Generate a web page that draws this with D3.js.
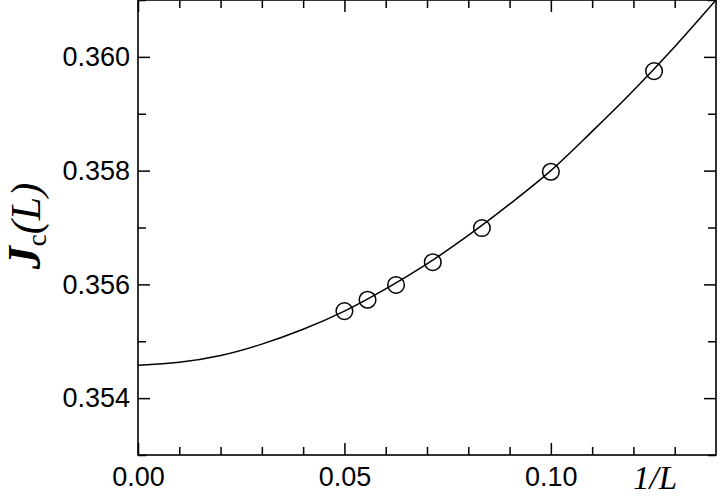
<!DOCTYPE html>
<html>
<head>
<meta charset="utf-8">
<script src="https://cdn.jsdelivr.net/npm/d3@7"></script>
<style>
  html, body { margin: 0; padding: 0; background: #fff; }
  svg { display: block; }
</style>
</head>
<body>
<svg id="chart" width="719" height="498"></svg>
<script>
// Data points: x = 1/L, y = Jc(L)
const invL = [0.05, 0.0556, 0.0625, 0.0714, 0.0833, 0.1, 0.125];
const Jc   = [0.35553, 0.35573, 0.35599, 0.35639, 0.35699, 0.35798, 0.35975];

// Fit curve
const fitX = [0.00, 0.01, 0.02, 0.03, 0.04, 0.05, 0.06, 0.07, 0.08, 0.09, 0.10, 0.11, 0.12, 0.13, 0.14];
const fitY = [0.35458, 0.35463, 0.35475, 0.35495, 0.35521, 0.35553, 0.35592, 0.35636, 0.35686, 0.35741, 0.35800, 0.35869, 0.35941, 0.36018, 0.36100];

// Ticks
const xMajor = [0.00, 0.05, 0.10];
const xMinor = [0.01, 0.02, 0.03, 0.04, 0.06, 0.07, 0.08, 0.09, 0.11, 0.12, 0.13];
const yMajor = [0.354, 0.356, 0.358, 0.360];
const yMinor = [0.353, 0.355, 0.357, 0.359, 0.361];

const L = 138, R = 716, T = 0, B = 455;
const x = d3.scaleLinear().domain([0, 0.14]).range([L, R]);
const y = d3.scaleLinear().domain([0.353, 0.361]).range([B, T]);

const svg = d3.select("#chart");
const font = "'Liberation Sans', Arial, sans-serif";
const serif = "'Liberation Serif', 'Times New Roman', serif";

// Fit line
const line = d3.line().x((d, i) => x(fitX[i])).y((d, i) => y(fitY[i])).curve(d3.curveCatmullRom.alpha(0.5));
svg.append("path")
  .attr("d", line(fitX))
  .attr("fill", "none").attr("stroke", "#000").attr("stroke-width", 1.5);

// Points
svg.append("g").selectAll("circle").data(invL).join("circle")
  .attr("cx", (d) => x(d))
  .attr("cy", (d, i) => y(Jc[i]))
  .attr("r", 8.3)
  .attr("fill", "none").attr("stroke", "#000").attr("stroke-width", 1.5);

// Axes with inward ticks on all four sides
const tickMaj = 12, tickMin = 8;
const axB = svg.append("g").attr("transform", `translate(0,${B})`);
axB.call(d3.axisBottom(x).tickValues(xMajor).tickSize(-tickMaj).tickPadding(12).tickFormat(d3.format(".2f")));
axB.append("g").call(d3.axisBottom(x).tickValues(xMinor).tickSize(-tickMin).tickFormat(""));
const axT = svg.append("g").attr("transform", `translate(0,${T})`);
axT.call(d3.axisTop(x).tickValues(xMajor).tickSize(-tickMaj).tickFormat(""));
axT.append("g").call(d3.axisTop(x).tickValues(xMinor).tickSize(-tickMin).tickFormat(""));
const axL = svg.append("g").attr("transform", `translate(${L},0)`);
axL.call(d3.axisLeft(y).tickValues(yMajor).tickSize(-tickMaj).tickPadding(8).tickFormat(d3.format(".3f")));
axL.append("g").call(d3.axisLeft(y).tickValues(yMinor).tickSize(-tickMin).tickFormat(""));
const axR = svg.append("g").attr("transform", `translate(${R},0)`);
axR.call(d3.axisRight(y).tickValues(yMajor).tickSize(-tickMaj).tickFormat(""));
axR.append("g").call(d3.axisRight(y).tickValues(yMinor).tickSize(-tickMin).tickFormat(""));

svg.selectAll(".domain").remove();
svg.selectAll(".tick line").attr("stroke", "#000").attr("stroke-width", 1.5);
svg.selectAll(".tick text").attr("fill", "#000").style("font-family", font).style("font-size", "27px");

// Frame
svg.append("rect").attr("x", L).attr("y", T).attr("width", R - L).attr("height", B - T)
  .attr("fill", "none").attr("stroke", "#000").attr("stroke-width", 1.6);

// X label
svg.append("text")
  .attr("x", 655).attr("y", 489)
  .attr("text-anchor", "middle")
  .style("font-family", serif).style("font-style", "italic").style("font-size", "33px")
  .text("1/L");

// Y label
const yl = svg.append("text")
  .attr("transform", "translate(40,226) rotate(-90)")
  .attr("text-anchor", "middle")
  .style("font-family", serif).style("font-size", "42px");
yl.append("tspan").style("font-style", "italic").style("font-weight", "bold").style("font-size", "46px").text("J");
yl.append("tspan").attr("dy", 6).style("font-size", "27px").text("c");
yl.append("tspan").attr("dy", -6).style("font-style", "italic").text("(L)");
</script>
</body>
</html>
